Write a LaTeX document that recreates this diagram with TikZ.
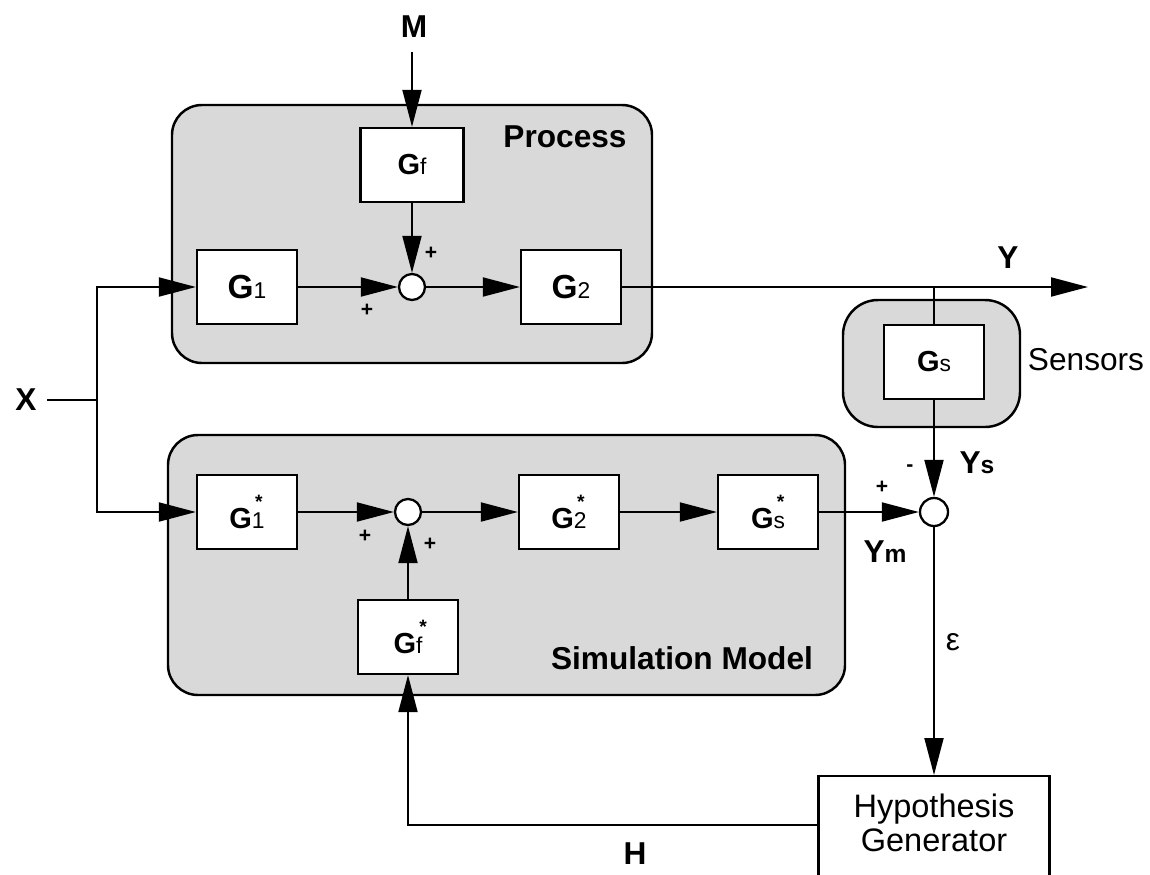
\documentclass[tikz,border=0pt]{standalone}
\usepackage{fontspec}
\setmainfont{Liberation Sans}
\usetikzlibrary{arrows.meta}

% transfer function labels
\newcommand{\gsub}[1]{G{\mdseries\fontsize{13}{13}\selectfont #1}}
\newcommand{\gstar}[1]{G\makebox[0pt][l]{\raisebox{1.35ex}{\fontsize{11}{11}\selectfont\,*}}{\mdseries\fontsize{13}{13}\selectfont #1}}

\tikzset{
	blk/.style={draw, line width=1.3pt, fill=white, minimum width=20mm, minimum height=14.8mm, inner sep=0pt, font=\fontsize{16.5}{18}\selectfont\bfseries},
	bigblk/.style={blk, font=\fontsize{19}{20}\selectfont\bfseries},
	sumpt/.style={draw, circle, line width=1.3pt, fill=white, minimum size=5.2mm, inner sep=0pt},
	grp/.style={draw, line width=1.4pt, fill=black!15, rounded corners=6mm},
	sig/.style={line width=1.1pt},
	lbl/.style={font=\fontsize{18}{20}\selectfont\bfseries},
	sgn/.style={font=\fontsize{12}{12}\selectfont\bfseries},
	hgbox/.style={draw, line width=1.3pt, fill=white, anchor=north, minimum width=46.2mm, align=center, inner ysep=3.6mm, text depth=16mm, font=\fontsize{18.5}{19}\selectfont},
	>={Triangle[length=7.4mm,width=3.8mm]}
}

\begin{document}
\begin{tikzpicture}[x=0.2mm, y=-0.2mm]
	\path[use as bounding box, clip] (0,0) rectangle (1150,874);

	% shaded groups
	\draw[grp] (172,105) rectangle (652,363);
	\draw[grp, rounded corners=7mm] (843,300) rectangle (1020,427);
	\draw[grp] (168,435) rectangle (845,695);

	\node[lbl] (proc) at (565,137) {Process};
	\node[lbl] (simm) at (682,658) {Simulation Model};
	\node[font=\fontsize{18}{20}\selectfont] (sens) at (1086,360) {Sensors};

	% process
	\node[bigblk] (g1) at (247,287) {\gsub{1}};
	\node[blk, minimum width=20.6mm] (gf) at (412,165) {\gsub{f}};
	\node[sumpt] (s1) at (412,287) {};
	\node[bigblk] (g2) at (571,287) {\gsub{2}};

	% sensors
	\node[blk] (gs) at (934,362) {\gsub{s}};

	% simulation model
	\node[blk] (g1m) at (247,512) {\gstar{1}};
	\node[sumpt] (s2) at (408,512) {};
	\node[blk] (g2m) at (569,512) {\gstar{2}};
	\node[blk] (gsm) at (768,512) {\gstar{s}};
	\node[blk] (gfm) at (408,637) {\gstar{f}};

	\node[sumpt, minimum size=5.6mm] (s3) at (934,512) {};
	\node[hgbox] (hg) at (934,775) {Hypothesis\\Generator};

	\coordinate (xin) at (47,400);
	\coordinate (xj) at (97,400);
	\coordinate (min) at (412,52);
	\coordinate (br) at (934,287);
	\coordinate (yout) at (1088,287);
	\coordinate (hc) at (408,825);

	% signals
	\draw[sig] (xin) -- (xj);
	\draw[sig,->] (xj) |- (g1);
	\draw[sig,->] (xj) |- (g1m);
	\draw[sig,->] (min) -- (gf);
	\draw[sig,->] (gf) -- (s1);
	\draw[sig,->] (g1) -- (s1);
	\draw[sig,->] (s1) -- (g2);
	\draw[sig,->] (g2) -- (yout);
	\draw[sig] (br) -- (gs);
	\draw[sig,->] (gs) -- (s3);
	\draw[sig,->] (g1m) -- (s2);
	\draw[sig,->] (gfm) -- (s2);
	\draw[sig,->] (s2) -- (g2m);
	\draw[sig,->] (g2m) -- (gsm);
	\draw[sig,->] (gsm) -- (s3);
	\draw[sig,->] (s3) -- (hg);
	\draw[sig,->] (hg.west |- hc) -- (hc) -- (gfm);

	% signal names
	\node[lbl] (xl) at (26,400) {X};
	\node[lbl] (ml) at (414,27) {M};
	\node[lbl] (yl) at (1008,258) {Y};
	\node[lbl] (hl) at (635,854) {H};
	\node[lbl] (ysl) at (977,463) {Y{\fontsize{14}{14}\selectfont s}};
	\node[lbl] (yml) at (885,552) {Y{\fontsize{14}{14}\selectfont m}};
	\node[font=\fontsize{18}{20}\selectfont] (el) at (953,642) {ε};

	% signs
	\node[sgn] at (431,253) {+};
	\node[sgn] at (367,310) {+};
	\node[sgn] at (365,536) {+};
	\node[sgn] at (430,544) {+};
	\node[sgn] at (882,487) {+};
	\node[sgn] at (910,468) {-};

\end{tikzpicture}
\end{document}
